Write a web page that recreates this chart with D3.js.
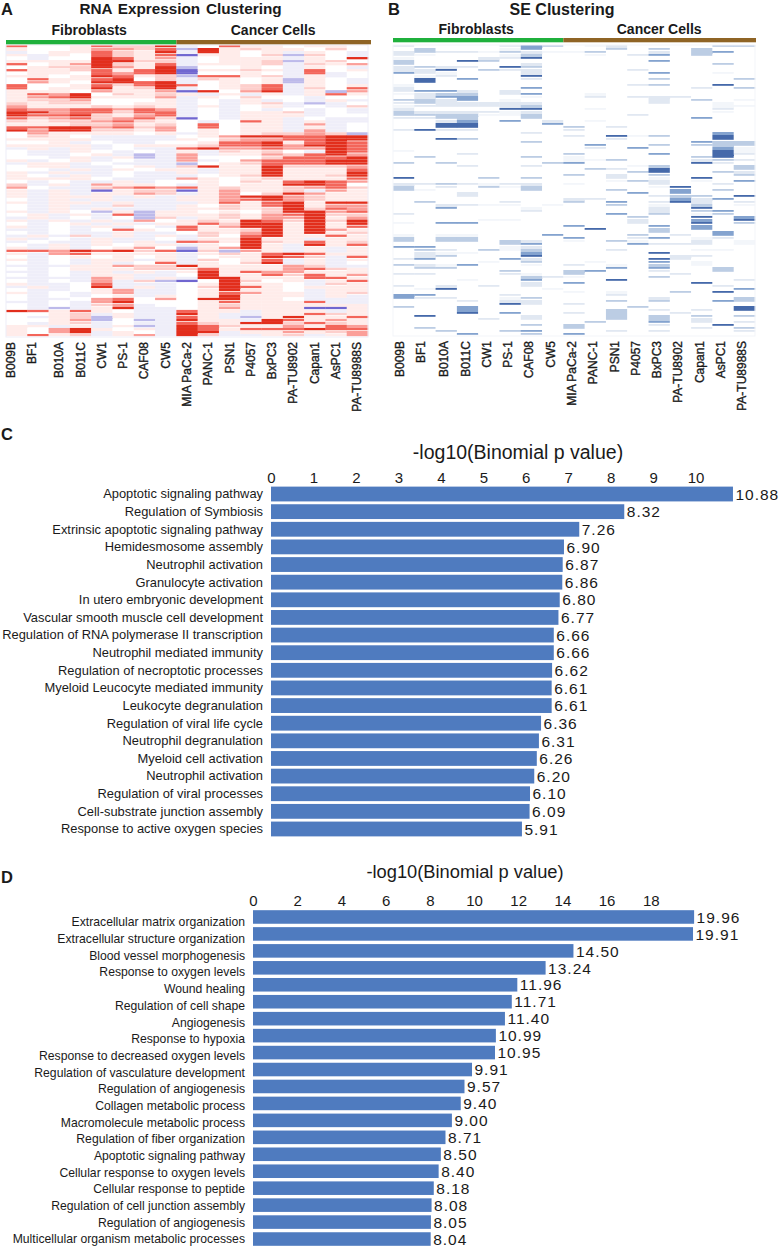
<!DOCTYPE html>
<html><head><meta charset="utf-8">
<script src="https://cdn.jsdelivr.net/npm/d3@7/dist/d3.min.js"></script>
<style>html,body{margin:0;padding:0;background:#fff}svg{display:block}text{font-family:"Liberation Sans",Arial,sans-serif;fill:#1a1a1a}</style>
</head><body><div id="c"></div>
<script>
const samples = ["B009B","BF1","B010A","B011C","CW1","PS-1","CAF08","CW5","MIA PaCa-2","PANC-1","PSN1","P4057","BxPC3","PA-TU8902","Capan1","AsPC1","PA-TU8988S"];
const groups = ["Fibroblasts","Cancer Cells"];
// a,b,c = under-expressed (blue), 0 = neutral, 1..5 = over-expressed (red)
const rnaRows = [
"40014225 a04110110","10013324 b51211020","a0114215 a5101a10a","1a104214 c1102b20a","0a005413 a0111a105",
"11115522 a0112b120","40135214 a1112a213","01225315 b0010a10a","41124145 c1121a401","01104345 c0010a4a0",
"11015412 b4412a1a0","04114502 a2101b10a","03105545 a0101b10a","40014245 40124a101","40115125 a0124a204",
"11103113 c5035a1b3","14350212 1a1a1a141","13451113 a10200a00","12230001 a0a1a0a1a","21220011 a0a12aba0",
"31112121 a1a01a0a2","43344343 a0a0a0a0a","55344244 a0a112a0a","54452134 a0a111a00","42342342 c0a11a0aa",
"21223421 0a041a1aa","11122312 04011a3a0","44553423 04011a1a0","53552213 01011a3a0","03111101 a1012232b",
"0210aaaa 013554455","1111aaaa 102334455","001a0aa0 014451454","1111a011 124453554","a1a1a0aa 453343354",
"0aa10a0a 1a2120a54","0aa01aba 3a1132453","00a1a1ba 300024445","1a01a0aa 3a0344455","a11a0aaa b01244455",
"011aa01a 251152223","00a1a101 1a1151114","1a1aa0aa 1a1151115","10a1a0aa a01251125","11110aaa 310121114",
"0a0aa1a0 010214543","2a1a3110 a10115540","30aa2343 412112342","1a1ac122 c13112a31","1a1a1132 a13025311",
"1a111a1a 113553211","0a1a1aaa 113453211","1a11a1aa a14145155","0a1aa2aa 102145133","0a1a1aaa 112125243",
"1a10b1b1 101025534","01a1a4b1 112134522","a1a0a0b2 a12133513","1a1a1a30 121542525","0a01a1a1 142551515",
"1a0a1a0a 413551514","aa0a0410 411251531","0a0aa1aa 021351512","a1a2a1a1 a20451141","1a0a1aa0 a11511a11",
"a0aa1a1a 431521412","0a1a1011 a1051a514","1a1a0130 b1351a1a1","44354524 c2b31a1a1","1a341111 a12145411",
"0a010101 a01154 2a4","1a0a11a1 a2014a1a1","0a0a1a04 a1025a1a0","aaa11322 5111132aa","0a011122 241113421",
"aa0a1a1a 151433111","0a0a11aa 051142413","aaaa31a1 a55111441","0a0a3a2b c05201a14","1aa04aaa 015110a21",
"a1a05a1a 025410111","0aa013aa 015110a11","1a0a13aa 014311a12","0a0a01a1 015111a1a","0aa03403 055110aaa",
"aa0a3500 0141114aa","0a0a23a0 012111111","0aba15aa 013111cc1","54141 0aa 411a111a1","0012a1aa 51aa11421",
"0a12b1aa 41ab15114","0013b0ba 511a54131","0a12a0aa 421552421","11a1a1ba 542113143","10351 01a 541444544",
"1035a10a 55a113123","1412a13a 52aa12a13"
];
// 0 = no signal, 1..5 = increasing signal
const seRows = [
"20000243 012000033","03000140 003030300","23221321 130020340","21000130 010240300","10002250 000000000",
"30053000 000040000","30000020 000000030","23220530 000000000","22503220 000200000","42100020 000040010",
"01200050 000000000","05040020 000030003","05000000 000000000","10000000 000230050","20000040 000000203",
"24420200 000000000","12330240 010000000","02440010 020222000","33240100 000020301","23222220 000020010",
"12222230 000000011","20000550 010000020","32222120 000000010","33331130 000200000","22330030 000000400",
"00240402 010000000","00550004 000000000","00550000 302000000","25220000 200000000","00000020 000000040",
"00000000 205130050","00530000 002000050","00000030 000000433","00000000 040030333","00000000 020400041",
"10000000 000000051","00020000 300040052","03000030 100000350","00000000 113000232","30300003 400000520",
"00020020 000130003","00000000 032050003","00000000 000350032","00000000 302030003","50003030 002010500",
"00000000 001320104","22321220 100020020","30203130 000015000","31000030 003004030","00020000 000404000",
"00020000 000023305","00000000 220004240","03000200 304025202","00221101 003010301","00400010 000020500",
"00000020 000020340","20000000 004030130","00000000 000300504","00001100 000200405","10440000 000200503",
"00000000 400040400","00000000 050030400","00000000 000030040","10110004 000302040","30330000 400240120",
"30330320 103100201","00000340 000422201","44000120 000000000","03203130 002000110","02110040 000050000",
"02300050 000002200","24000420 000052000","00001030 010040100","32140010 201030100","03300000 004040030",
"00000300 340020030","22000210 300002000","00000032 100030000","00010040 005000002","00000020 400000500",
"20202020 000000020","01500001 000000004","00000000 101003050","44000200 002000000","42200130 000020003",
"00020220 003030043","00000520 200000000","30040000 000300005","00040000 003020205","00050400 203002000",
"05000020 003030303","00002020 003030200","00000000 030040202","00000030 300020050","03000000 300000203",
"00300340 002020002","00040030 400000000"
];
const termsC = ["Apoptotic signaling pathway","Regulation of Symbiosis","Extrinsic apoptotic signaling pathway","Hemidesmosome assembly","Neutrophil activation","Granulocyte activation","In utero embryonic development","Vascular smooth muscle cell development","Regulation of RNA polymerase II transcription","Neutrophil mediated immunity","Regulation of necroptotic processes","Myeloid Leucocyte mediated immunity","Leukocyte degranulation","Regulation of viral life cycle","Neutrophil degranulation","Myeloid cell activation","Neutrophil activation","Regulation of viral processes","Cell-substrate junction assembly","Response to active oxygen species"];
const valuesC = [10.88,8.32,7.26,6.90,6.87,6.86,6.80,6.77,6.66,6.66,6.62,6.61,6.61,6.36,6.31,6.26,6.20,6.10,6.09,5.91];
const ticksC = [0,1,2,3,4,5,6,7,8,9,10];
const termsD = ["Extracellular matrix organization","Extracellular structure organization","Blood vessel morphogenesis","Response to oxygen levels","Wound healing","Regulation of cell shape","Angiogenesis","Response to hypoxia","Response to decreased oxygen levels","Regulation of vasculature development","Regulation of angiogenesis","Collagen metabolic process","Macromolecule metabolic process","Regulation of fiber organization","Apoptotic signaling pathway","Cellular response to oxygen levels","Cellular response to peptide","Regulation of cell junction assembly","Regulation of angiogenesis","Multicellular organism metabolic processes"];
const valuesD = [19.96,19.91,14.50,13.24,11.96,11.71,11.40,10.99,10.95,9.91,9.57,9.40,9.00,8.71,8.50,8.40,8.18,8.08,8.05,8.04];
const ticksD = [0,2,4,6,8,10,12,14,16,18];
const axisTitle = "-log10(Binomial p value)";

const svg = d3.select("#c").append("svg").attr("width",780).attr("height",1247);
const defs = svg.append("defs");
defs.append("filter").attr("id","soft").attr("x","-2%").attr("y","-2%").attr("width","104%").attr("height","104%")
  .append("feGaussianBlur").attr("stdDeviation","0.5 0.55");
const level = ch => ({a:-1,b:-2,c:-3})[ch] ?? +ch;
const parseRows = rows => rows.map(r => Array.from(r.replace(/\s/g,""), level));

const rnaColor = d3.scaleLinear().domain([-3,-2,-1,0,1,2,3,4,5])
  .range(["#6f66d0","#bdbaea","#efeef9","#ffffff","#ffecea","#fdcfcc","#fb9f99","#f3655a","#e22d1e"]);
const seColor = d3.scaleLinear().domain([0,1,2,3,4,5])
  .range(["#ffffff","#f3f6fa","#e1e8f2","#bccde4","#84a3cf","#4469aa"]);

function heatmap(o){
  const rows = parseRows(o.rows);
  const x = d3.scaleBand().domain(d3.range(samples.length)).range([o.x0,o.x1]);
  const y = d3.scaleBand().domain(d3.range(rows.length)).range([o.y0,o.y1]);
  const g = svg.append("g").attr("filter","url(#soft)");
  rows.forEach((row,ri)=>{
    g.selectAll(null).data(row.map((v,ci)=>({v,ci}))).join("rect")
      .attr("x",d=>x(d.ci)).attr("y",y(ri))
      .attr("width",x.bandwidth()+.3)
      .attr("height",d=>y.bandwidth()*((rows[ri+1]&&Math.abs(rows[ri+1][d.ci])>=Math.abs(d.v))?1:o.fill))
      .attr("fill",d=>o.color(d.v));
  });
  if(o.frame) svg.append("rect").attr("x",o.x0).attr("y",o.y0).attr("width",o.x1-o.x0).attr("height",o.y1-o.y0)
    .attr("fill","none").attr("stroke",o.frame).attr("stroke-width",1);
  const split = x(8);
  svg.append("rect").attr("x",o.x0).attr("y",o.barY).attr("width",split-o.x0).attr("height",4.3).attr("fill","#1fb03c");
  svg.append("rect").attr("x",split).attr("y",o.barY).attr("width",o.barEnd-split).attr("height",4.3).attr("fill","#8f6425");
  svg.append("text").attr("x",(o.x0+split)/2-2).attr("y",o.headY).attr("text-anchor","middle")
    .attr("font-size",14).attr("font-weight","bold").text(groups[0]);
  svg.append("text").attr("x",(split+o.barEnd)/2-.5).attr("y",o.headY).attr("text-anchor","middle")
    .attr("font-size",14).attr("font-weight","bold").text(groups[1]);
  svg.selectAll(null).data(samples).join("text")
    .attr("transform",(d,i)=>`translate(${x(i)+x.bandwidth()/2+o.shift(i)+4},${o.y1+5}) rotate(-90)`)
    .attr("text-anchor","end").attr("font-size",12).attr("stroke","#1a1a1a").attr("stroke-width",.35).text(d=>d);
}
heatmap({rows:rnaRows,color:rnaColor,fill:.75,x0:6,x1:368,y0:45,y1:337,barY:40,barEnd:371,headY:35,frame:"#eeeef8",shift:i=>i<2?-5.5:0});
heatmap({rows:seRows,color:seColor,fill:.6,x0:393,x1:755,y0:45,y1:336,barY:38,barEnd:756,headY:34,frame:"#f3f5f9",shift:i=>i<2?-3.5:-2});

function title(t,x,y,size,weight){
  svg.append("text").attr("x",x).attr("y",y).attr("text-anchor","middle").attr("font-size",size).attr("font-weight",weight||"normal").text(t);
}
function letter(t,x,y){ svg.append("text").attr("x",x).attr("y",y).attr("font-size",16.5).attr("font-weight","bold").attr("fill","#000").text(t); }
letter("A",1,15); letter("B",388,15); letter("C",1,440); letter("D",1,883);
svg.append("text").attr("x",180.5).attr("y",14).attr("text-anchor","middle").attr("font-size",15.3).attr("font-weight","bold").attr("word-spacing",1.5).text("RNA Expression Clustering");
title("SE Clustering",562,15,16,"bold");

function bars(o){
  const x = d3.scaleLinear().domain([0,o.max]).range([o.x0,o.x1]);
  const idx = o.terms.map((_,i)=>i);
  const y = d3.scaleBand().domain(idx).range([o.y0,o.y1]).paddingInner(o.pad).paddingOuter(o.pad/2);
  const yl = d3.scaleBand().domain(idx).range(o.labelRange);
  const axis = svg.append("g").attr("transform",`translate(0,${o.axisY})`)
    .call(d3.axisTop(x).tickValues(o.ticks).tickSize(0).tickPadding(0).tickFormat(d3.format("d")));
  axis.select(".domain").remove();
  axis.selectAll("text").attr("font-size",15).attr("font-family",'"Liberation Sans",Arial,sans-serif').attr("fill","#2a2a2a").attr("dy",0);
  svg.selectAll(null).data(o.values).join("rect")
    .attr("x",o.x0).attr("y",(d,i)=>y(i)).attr("width",d=>x(d)-o.x0).attr("height",y.bandwidth()).attr("fill","#4f7bbf");
  svg.selectAll(null).data(o.terms).join("text")
    .attr("x",o.x0-8).attr("y",(d,i)=>yl(i)+yl.bandwidth()/2+4.4).attr("text-anchor","end")
    .attr("font-size",o.labelSize).attr("fill","#222").text(d=>d);
  svg.selectAll(null).data(o.values).join("text")
    .attr("x",d=>x(d)+2.5).attr("y",(d,i)=>y(i)+y.bandwidth()/2+5.7).attr("font-size",15.5)
    .attr("letter-spacing",1).attr("fill","#222").text(d=>d.toFixed(2));
  title(axisTitle,o.titleX,o.titleY,o.titleSize);
}
bars({terms:termsC,values:valuesC,ticks:ticksC,max:10,x0:271,x1:695.6,y0:485.2,y1:837.8,labelRange:[485.2,837.8],pad:.16,axisY:483,labelSize:12.9,titleX:518,titleY:459,titleSize:19.5});
bars({terms:termsD,values:valuesD,ticks:ticksD,max:18,x0:253,x1:650.8,y0:908.5,y1:1247.5,labelRange:[913.7,1247.3],pad:.2,axisY:906,labelSize:12.2,titleX:465,titleY:878,titleSize:18.3});
</script></body></html>
